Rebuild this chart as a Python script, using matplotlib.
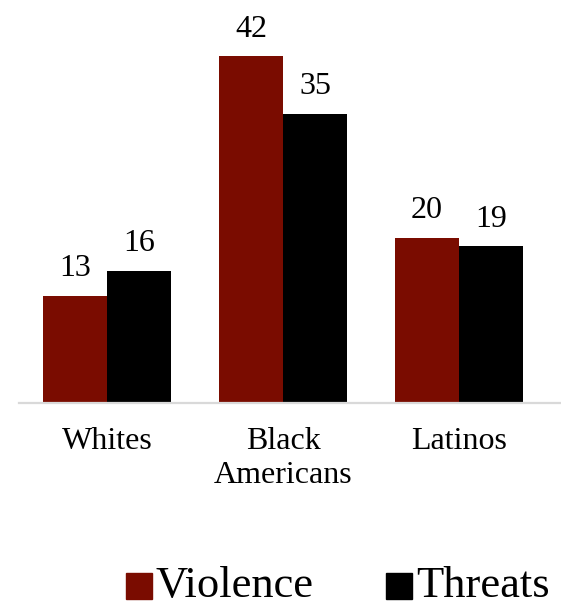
import matplotlib
matplotlib.use("Agg")
import numpy as np
from matplotlib import pyplot as plt
from matplotlib.patches import Rectangle

categories = ["Whites", "Black\nAmericans", "Latinos"]
violence = [13, 42, 20]
threats = [16, 35, 19]
series_names = ["Violence", "Threats"]
colors = ["#7a0c00", "#000000"]

plt.rcParams['font.family'] = ['Liberation Serif', 'DejaVu Serif']

fig = plt.figure(figsize=(5.61, 6.07), dpi=100)
ax = fig.add_axes([0.0, 1 - 403 / 607, 1.0, 403 / 607])

x = np.arange(len(categories))
w = 0.364
for vals, off, c in [(violence, -w / 2, colors[0]), (threats, w / 2, colors[1])]:
    bars = ax.bar(x + off, vals, w, color=c)
    for b, v in zip(bars, vals):
        ax.annotate(str(v), (b.get_x() + b.get_width() / 2, v),
                    xytext=(0, 9), textcoords="offset points",
                    ha="center", va="bottom", fontsize=23)

ax.set_xlim(-0.61, 2.58)
ax.set_ylim(0, 48.8)
ax.set_xticks(x)
ax.set_xticklabels(categories, fontsize=23, linespacing=1.25)
ax.tick_params(axis="x", length=0, pad=17)
ax.set_yticks([])
for s in ["top", "left", "right"]:
    ax.spines[s].set_visible(False)
ax.spines["bottom"].set_color("#d9d9d9")
ax.spines["bottom"].set_linewidth(1.6)
ax.spines["bottom"].set_bounds(-0.5, 2.58)

# legend drawn by hand at the bottom
W, H = 561, 607
for i, (name, c) in enumerate(zip(series_names, colors)):
    x0 = [126, 386][i]
    fig.add_artist(Rectangle((x0 / W, (H - 599) / H), 26 / W, 26 / H,
                             transform=fig.transFigure, color=c))
    fig.text((x0 + 30) / W, (H - 597) / H, name, fontsize=32,
             ha="left", va="baseline")

fig.savefig("out.png", dpi=100)
